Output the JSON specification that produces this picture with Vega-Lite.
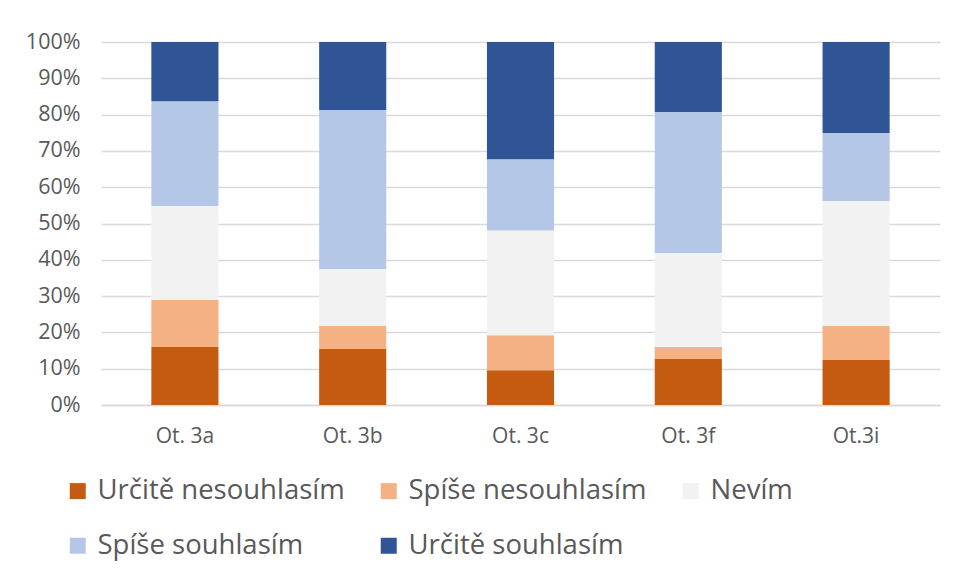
{
  "$schema": "https://vega.github.io/schema/vega-lite/v6.json",
  "autosize": "none",
  "width": 839,
  "height": 363,
  "padding": {"left": 101, "top": 42, "right": 17, "bottom": 179},
  "background": "white",
  "data": {
    "values": [
      {"q": "Ot. 3a", "k": "Určitě nesouhlasím", "o": 1, "v": 16.0},
      {"q": "Ot. 3a", "k": "Spíše nesouhlasím", "o": 2, "v": 12.9},
      {"q": "Ot. 3a", "k": "Nevím", "o": 3, "v": 25.9},
      {"q": "Ot. 3a", "k": "Spíše souhlasím", "o": 4, "v": 28.9},
      {"q": "Ot. 3a", "k": "Určitě souhlasím", "o": 5, "v": 16.3},
      {"q": "Ot. 3b", "k": "Určitě nesouhlasím", "o": 1, "v": 15.4},
      {"q": "Ot. 3b", "k": "Spíše nesouhlasím", "o": 2, "v": 6.4},
      {"q": "Ot. 3b", "k": "Nevím", "o": 3, "v": 15.7},
      {"q": "Ot. 3b", "k": "Spíše souhlasím", "o": 4, "v": 43.8},
      {"q": "Ot. 3b", "k": "Určitě souhlasím", "o": 5, "v": 18.7},
      {"q": "Ot. 3c", "k": "Určitě nesouhlasím", "o": 1, "v": 9.6},
      {"q": "Ot. 3c", "k": "Spíše nesouhlasím", "o": 2, "v": 9.6},
      {"q": "Ot. 3c", "k": "Nevím", "o": 3, "v": 28.9},
      {"q": "Ot. 3c", "k": "Spíše souhlasím", "o": 4, "v": 19.6},
      {"q": "Ot. 3c", "k": "Určitě souhlasím", "o": 5, "v": 32.3},
      {"q": "Ot. 3f", "k": "Určitě nesouhlasím", "o": 1, "v": 12.7},
      {"q": "Ot. 3f", "k": "Spíše nesouhlasím", "o": 2, "v": 3.3},
      {"q": "Ot. 3f", "k": "Nevím", "o": 3, "v": 25.9},
      {"q": "Ot. 3f", "k": "Spíše souhlasím", "o": 4, "v": 38.8},
      {"q": "Ot. 3f", "k": "Určitě souhlasím", "o": 5, "v": 19.3},
      {"q": "Ot.3i", "k": "Určitě nesouhlasím", "o": 1, "v": 12.4},
      {"q": "Ot.3i", "k": "Spíše nesouhlasím", "o": 2, "v": 9.4},
      {"q": "Ot.3i", "k": "Nevím", "o": 3, "v": 34.4},
      {"q": "Ot.3i", "k": "Spíše souhlasím", "o": 4, "v": 18.7},
      {"q": "Ot.3i", "k": "Určitě souhlasím", "o": 5, "v": 25.1}
    ]
  },
  "mark": {"type": "bar"},
  "encoding": {
    "x": {
      "field": "q", "type": "nominal", "sort": null,
      "scale": {"paddingInner": 0.6, "paddingOuter": 0.3},
      "axis": {"title": null, "labelAngle": 0, "labelFontSize": 21, "labelColor": "#595959", "labelFont": "Open Sans", "ticks": false, "domainColor": "#d9d9d9", "domainWidth": 1.5, "labelPadding": 20}
    },
    "y": {
      "field": "v", "type": "quantitative", "stack": "normalize",
      "scale": {"domain": [0, 1]},
      "axis": {"title": null, "format": ".0%", "values": [0,0.1,0.2,0.3,0.4,0.5,0.6,0.7,0.8,0.9,1], "labelOverlap": false, "labelFontSize": 21.5, "labelColor": "#595959", "labelFont": "Open Sans", "ticks": false, "domain": false, "gridColor": "#d9d9d9", "gridWidth": 1.5, "labelPadding": 21}
    },
    "color": {
      "field": "k", "type": "nominal",
      "scale": {
        "domain": ["Určitě nesouhlasím", "Spíše nesouhlasím", "Nevím", "Spíše souhlasím", "Určitě souhlasím"],
        "range": ["#C55A11", "#F4B183", "#F2F2F2", "#B4C7E7", "#2F5597"]
      },
      "legend": {
        "title": null, "orient": "none", "legendX": -37, "legendY": 435,
        "direction": "horizontal", "columns": 3, "symbolType": "square", "symbolSize": 256,
        "labelFontSize": 27.5, "labelFont": "Open Sans", "labelColor": "#595959", "labelLimit": 600, "columnPadding": 30, "rowPadding": 26, "labelOffset": 6, "symbolStrokeWidth": 0
      }
    },
    "order": {"field": "o", "type": "quantitative"}
  },
  "config": {"view": {"stroke": null}}
}
